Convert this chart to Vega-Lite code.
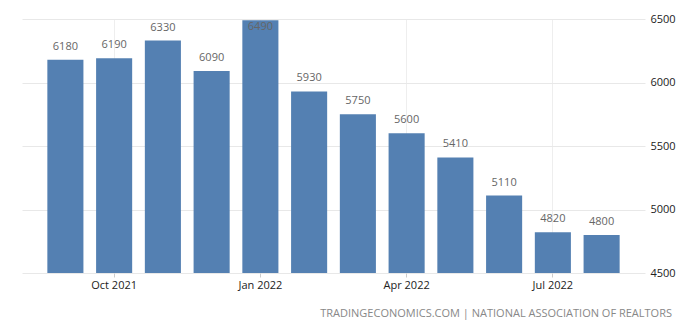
{
  "$schema": "https://vega.github.io/schema/vega-lite/v6.json",
  "width": 623,
  "height": 254,
  "autosize": {"type": "none"},
  "padding": {"left": 22, "top": 19, "right": 55, "bottom": 57},
  "background": "white",
  "config": {
    "view": {"stroke": null},
    "font": "Open Sans",
    "axis": {"labelFont": "Open Sans", "labelFontSize": 11, "labelColor": "#222", "domain": false}
  },
  "title": {
    "text": "TRADINGECONOMICS.COM | NATIONAL ASSOCIATION OF REALTORS",
    "orient": "bottom",
    "anchor": "end",
    "frame": "group",
    "fontSize": 11,
    "fontWeight": "normal",
    "font": "Open Sans",
    "color": "#888888",
    "offset": 18,
    "dx": 27
  },
  "data": {
    "values": [
      {"month": "Sep 2021", "value": 6180},
      {"month": "Oct 2021", "value": 6190},
      {"month": "Nov 2021", "value": 6330},
      {"month": "Dec 2021", "value": 6090},
      {"month": "Jan 2022", "value": 6490},
      {"month": "Feb 2022", "value": 5930},
      {"month": "Mar 2022", "value": 5750},
      {"month": "Apr 2022", "value": 5600},
      {"month": "May 2022", "value": 5410},
      {"month": "Jun 2022", "value": 5110},
      {"month": "Jul 2022", "value": 4820},
      {"month": "Aug 2022", "value": 4800}
    ]
  },
  "encoding": {
    "x": {
      "field": "month",
      "type": "ordinal",
      "sort": null,
      "title": null,
      "scale": {"paddingInner": 0.26, "paddingOuter": 0.52},
      "axis": {
        "labelAngle": 0,
        "labelExpr": "indexof(['Oct 2021','Jan 2022','Apr 2022','Jul 2022'], datum.value) >= 0 ? datum.value : ''",
        "tickSize": 4,
        "tickColor": "#cccccc",
        "tickOpacity": {"condition": {"test": "indexof(['Oct 2021','Jan 2022','Apr 2022','Jul 2022'], datum.value) >= 0", "value": 1}, "value": 0},
        "grid": true,
        "gridColor": "#eeeeee",
        "gridOpacity": {"condition": {"test": "indexof(['Oct 2021','Jan 2022','Apr 2022','Jul 2022'], datum.value) >= 0", "value": 1}, "value": 0},
        "labelPadding": 2
      }
    }
  },
  "layer": [
    {
      "mark": {"type": "bar", "color": "#5480b2"},
      "encoding": {
        "y": {
          "field": "value",
          "type": "quantitative",
          "title": null,
          "scale": {"domain": [4500, 6500], "nice": false, "zero": false},
          "axis": {
            "orient": "right",
            "values": [4500, 5000, 5500, 6000, 6500],
            "format": "d",
            "ticks": false,
            "labelPadding": 5,
            "gridColor": "#e8e8e8",
            "labelBaseline": "middle"
          }
        },
        "y2": {"datum": 4500}
      }
    },
    {
      "mark": {"type": "text", "baseline": "middle", "dy": 8, "fontSize": 11, "color": "#666666", "font": "Open Sans"},
      "encoding": {
        "y": {
          "field": "value",
          "type": "quantitative",
          "scale": {"domain": [4335, 6335], "nice": false, "zero": false, "clamp": true},
          "axis": null
        },
        "text": {"field": "value", "type": "quantitative", "format": "d"}
      }
    }
  ],
  "resolve": {"scale": {"y": "independent"}}
}
